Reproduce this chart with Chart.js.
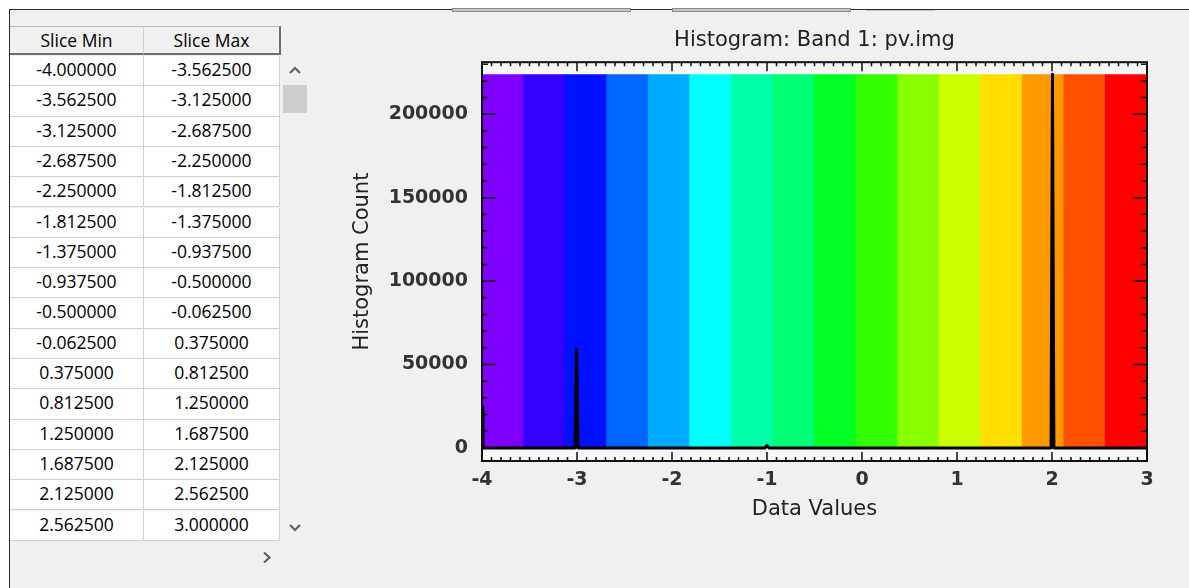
<!DOCTYPE html>
<html>
<head>
<meta charset="utf-8">
<script src="https://cdn.jsdelivr.net/npm/chart.js@4.4.1/dist/chart.umd.min.js"></script>
<style>
  html, body { margin: 0; padding: 0; }
  body { width: 1189px; height: 588px; background: #ffffff; position: relative; overflow: hidden; font-family: "Open Sans", sans-serif; }
  #panel { position: absolute; left: 9px; top: 9px; right: 0; bottom: 0; background: #f0f0f0; border-left: 1px solid #2b2b2b; border-top: 1px solid #2b2b2b; }
  .btn { position: absolute; top: 8px; height: 2px; border: 1px solid #8a8a8a; background: #c4c4c4; }
  .hcell, .cell { position: absolute; box-sizing: border-box; text-align: center; color: #000; font-size: 17.5px; }
  .hcell { top: 26px; height: 29px; line-height: 27px; background: #f0f0f0; border-top: 1px solid #b8b8b8; border-bottom: 2px solid #6e6e6e; }
  .cell { background: #fff; border-right: 1px solid #d2d2d2; border-bottom: 1px solid #d2d2d2; }
  #thumb { position: absolute; left: 283px; top: 85px; width: 24px; height: 28px; background: #cdcdcd; }
  .chev { position: absolute; }
  #chartBox { position: absolute; left: 330px; top: 0; width: 859px; height: 588px; }
</style>
</head>
<body>
<div id="panel"></div>
<div class="btn" style="left:452px; width:177px;"></div>
<div class="btn" style="left:672px; width:177px;"></div>
<div style="position:absolute; left:866px; top:10px; width:69px; height:1px; background:#c6c6c6;"></div>
<div id="grid"></div>
<div id="thumb"></div>
<svg class="chev" style="left:288px; top:65px;" width="14" height="10"><polyline points="2,8 7,3 12,8" fill="none" stroke="#606060" stroke-width="2.2"/></svg>
<svg class="chev" style="left:288px; top:523px;" width="14" height="10"><polyline points="2,2 7,7 12,2" fill="none" stroke="#606060" stroke-width="2.2"/></svg>
<svg class="chev" style="left:261px; top:551px;" width="12" height="13"><polyline points="3,1.5 8.5,6.5 3,11.5" fill="none" stroke="#606060" stroke-width="2.2"/></svg>
<div id="chartBox"><canvas id="histChart" width="859" height="588"></canvas></div>

<script>
// colour slices (density slice table)
const sliceMin = [-4.0, -3.5625, -3.125, -2.6875, -2.25, -1.8125, -1.375, -0.9375,
                  -0.5, -0.0625, 0.375, 0.8125, 1.25, 1.6875, 2.125, 2.5625];
const sliceMax = [-3.5625, -3.125, -2.6875, -2.25, -1.8125, -1.375, -0.9375, -0.5,
                  -0.0625, 0.375, 0.8125, 1.25, 1.6875, 2.125, 2.5625, 3.0];
const sliceColors = ['#8000ff', '#3300ff', '#0011ff', '#0066ff', '#00aaff', '#00ffff', '#00ffaa', '#00ff77',
                     '#00ff22', '#33ff00', '#88ff00', '#ccff00', '#ffdd00', '#ff9900', '#ff5000', '#ff0000'];

// histogram of band 1
const histValues = [-4.0, -3.99, -3.02, -3.005, -2.99, -1.02, -1.0, -0.98, 1.99, 2.005, 2.02, 3.0];
const histCounts = [24500, 0, 0, 59000, 0, 0, 1500, 0, 0, 224000, 0, 0];

const xTicks = [-4, -3, -2, -1, 0, 1, 2, 3];
const yTicks = [0, 50000, 100000, 150000, 200000];

// build the slice table
const grid = document.getElementById('grid');
grid.innerHTML =
  '<div class="hcell" style="left:10px;width:134px;border-right:1px solid #d0d0d0;">Slice Min</div>' +
  '<div class="hcell" style="left:144px;width:137px;border-right:2px solid #6e6e6e;">Slice Max</div>';
const rowH = 30.3;
sliceMin.forEach((m, i) => {
  const top = 56 + i * rowH;
  grid.innerHTML +=
    '<div class="cell" style="left:10px;width:134px;top:' + top + 'px;height:' + rowH + 'px;line-height:' + (rowH - 4) + 'px;">' + m.toFixed(6) + '</div>' +
    '<div class="cell" style="left:144px;width:136px;top:' + top + 'px;height:' + rowH + 'px;line-height:' + (rowH - 4) + 'px;">' + sliceMax[i].toFixed(6) + '</div>';
});

const bandTop = Math.max(...histCounts);

// plot background, frame and inward ticks on all four sides
const frameTicks = {
  id: 'frameTicks',
  beforeDatasetsDraw(chart) {
    const {ctx, chartArea: a} = chart;
    ctx.save();
    ctx.fillStyle = '#f7f7f7';
    ctx.fillRect(a.left, a.top, a.right - a.left, a.bottom - a.top);
    ctx.restore();
  },
  afterDatasetsDraw(chart) {
    const {ctx, chartArea: a, scales: {x, y}} = chart;
    ctx.save();
    ctx.strokeStyle = '#111';
    ctx.lineWidth = 1.5;
    ctx.beginPath();
    for (let i = 0; i <= 70; i++) {
      const px = x.getPixelForValue(-4 + i / 10);
      const len = i % 10 === 0 ? 9 : 4;
      ctx.moveTo(px, a.bottom); ctx.lineTo(px, a.bottom - len);
      ctx.moveTo(px, a.top); ctx.lineTo(px, a.top + len);
    }
    for (let v = 0; v <= y.max; v += 10000) {
      const py = y.getPixelForValue(v);
      const len = v % 50000 === 0 ? 14 : 6;
      ctx.moveTo(a.left, py); ctx.lineTo(a.left + len, py);
      ctx.moveTo(a.right, py); ctx.lineTo(a.right - len, py);
    }
    ctx.stroke();
    ctx.lineWidth = 2;
    ctx.strokeRect(a.left, a.top, a.right - a.left, a.bottom - a.top);
    ctx.restore();
  }
};

new Chart(document.getElementById('histChart'), {
  type: 'line',
  data: {
    datasets: [
      {
        type: 'line',
        data: histValues.map((v, i) => ({x: v, y: histCounts[i]})),
        borderColor: '#000',
        borderWidth: 3,
        borderJoinStyle: 'round',
        pointRadius: 0,
        tension: 0,
        order: 1
      },
      {
        type: 'bar',
        data: sliceMin.map((m, i) => ({x: (m + sliceMax[i]) / 2, y: bandTop})),
        backgroundColor: sliceColors,
        borderWidth: 0,
        barPercentage: 1.02,
        categoryPercentage: 1,
        order: 2
      }
    ]
  },
  options: {
    responsive: false,
    animation: false,
    layout: { padding: { left: 20, right: 42, top: 0, bottom: 66 } },
    plugins: {
      legend: { display: false },
      tooltip: { enabled: false },
      title: {
        display: true,
        fullSize: false,
        text: 'Histogram: Band 1: pv.img',
        color: '#222',
        font: { family: 'DejaVu Sans', size: 21, weight: 'normal' },
        padding: { top: 28, bottom: 9 }
      }
    },
    scales: {
      x: {
        type: 'linear',
        min: -4,
        max: 3,
        offset: false,
        afterBuildTicks: (scale) => { scale.ticks = xTicks.map(v => ({value: v})); },
        afterFit: (scale) => { scale.height = 61; },
        grid: { display: false, drawTicks: false },
        border: { display: false },
        ticks: {
          color: '#333',
          font: { family: 'DejaVu Sans', size: 19, weight: 'bold' },
          padding: 8,
          autoSkip: false,
          maxRotation: 0,
          callback: (v) => String(v)
        },
        title: {
          display: true,
          text: 'Data Values',
          color: '#222',
          font: { family: 'DejaVu Sans', size: 21 },
          padding: 0
        }
      },
      y: {
        min: -7860,
        max: 231200,
        afterBuildTicks: (scale) => { scale.ticks = yTicks.map(v => ({value: v})); },
        afterFit: (scale) => { scale.width = 132; },
        grid: { display: false, drawTicks: false },
        border: { display: false },
        ticks: {
          color: '#333',
          font: { family: 'DejaVu Sans', size: 19, weight: 'bold' },
          padding: 14,
          callback: (v) => String(v)
        },
        title: {
          display: true,
          text: 'Histogram Count',
          color: '#222',
          font: { family: 'DejaVu Sans', size: 21 },
          padding: 0
        }
      }
    }
  },
  plugins: [frameTicks]
});
</script>
</body>
</html>
